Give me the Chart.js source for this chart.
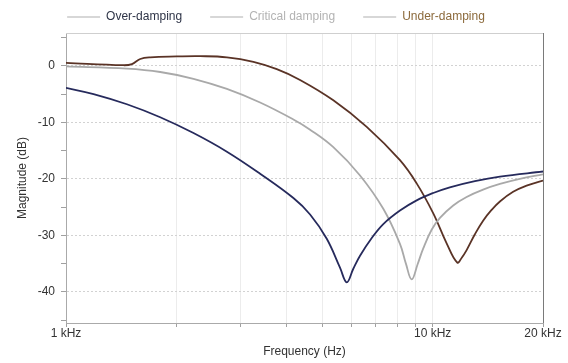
<!DOCTYPE html>
<html><head><meta charset="utf-8">
<script src="https://cdn.jsdelivr.net/npm/chart.js@4/dist/chart.umd.min.js"></script>
<style>html,body{margin:0;padding:0;background:#fff}</style>
</head><body>
<canvas id="c" width="568" height="363"></canvas>
<script>
// ---- data ----
const seriesNames = ['Over-damping', 'Critical damping', 'Under-damping'];

const overFreq = [1000, 1189, 1466, 1807, 2227, 2747, 3384, 4171, 4632, 5143, 5589, 5832, 6076, 6338, 6800, 7335, 8145, 9045, 10040, 11140, 13040, 15260, 20000];
const overDb   = [-3.9, -5.0, -6.8, -9.1, -11.9, -15.2, -19.1, -23.4, -26.3, -30.6, -35.7, -38.3, -35.9, -33.6, -30.6, -28.0, -25.6, -23.8, -22.5, -21.5, -20.4, -19.6, -18.7];

const critFreq = [1000, 1466, 1807, 2227, 2747, 3384, 4171, 4632, 5360, 6338, 7335, 8145, 8455, 8767, 9100, 9428, 9937, 10470, 11380, 12380, 13730, 15260, 17290, 20000];
const critDb   = [-0.1, -0.5, -1.1, -2.3, -4.1, -6.5, -9.5, -11.3, -14.4, -19.4, -25.3, -31.5, -35.0, -37.8, -35.1, -32.3, -29.0, -26.9, -24.7, -23.2, -21.9, -20.9, -20.0, -19.2];

const underFreq = [1000, 1435, 1513, 1594, 1697, 2006, 2323, 2747, 3245, 3758, 4349, 5360, 6610, 8145, 9045, 10040, 10920, 11670, 12020, 12380, 13040, 13730, 14480, 15260, 16580, 18040, 20000];
const underDb   = [0.5, 0.1, 0.3, 1.2, 1.5, 1.65, 1.7, 1.5, 0.7, -0.6, -2.5, -6.1, -10.8, -16.7, -20.8, -26.1, -31.4, -34.8, -33.9, -32.6, -29.8, -27.4, -25.5, -24.0, -22.3, -21.2, -20.3];

const xTickValues = [1000, 2000, 3000, 4000, 5000, 6000, 7000, 8000, 9000, 10000, 20000];
const xTickLabels = {1000: '1 kHz', 10000: '10 kHz', 20000: '20 kHz'};
const yTickValues = [5, 0, -5, -10, -15, -20, -25, -30, -35, -40, -45];
const yLabelStep = 10;

// ---- styling ----
const lineColors = ['#262a5c', '#a9a9a9', '#5a3326'];
const legendTextColors = ['#2e3447', '#b3b3b3', '#8c6a3c'];
const legendSampleColor = '#b0b0b0';
const FONT = 'Liberation Sans, Arial, Helvetica, sans-serif';

const toPts = (xs, ys) => xs.map((x, i) => ({x, y: ys[i]}));

const framePlugin = {
  id: 'frameTop',
  beforeDatasetsDraw(chart) {
    const {ctx, chartArea: a} = chart;
    ctx.save();
    ctx.strokeStyle = '#cfcfcf';
    ctx.lineWidth = 1;
    ctx.beginPath();
    ctx.moveTo(a.left, Math.round(a.top) + 0.5);
    ctx.lineTo(a.right, Math.round(a.top) + 0.5);
    ctx.stroke();
    ctx.restore();
  }
};

new Chart(document.getElementById('c'), {
  type: 'line',
  data: {
    datasets: [
      {label: seriesNames[0], data: toPts(overFreq, overDb), borderColor: lineColors[0]},
      {label: seriesNames[1], data: toPts(critFreq, critDb), borderColor: lineColors[1]},
      {label: seriesNames[2], data: toPts(underFreq, underDb), borderColor: lineColors[2]}
    ].map(d => Object.assign(d, {borderWidth: 1.8, pointRadius: 0, fill: false, tension: 0.4}))
  },
  options: {
    responsive: false,
    animation: false,
    devicePixelRatio: 1,
    layout: {padding: {top: -17, right: 25, left: 9, bottom: 0}},
    plugins: {
      tooltip: {enabled: false},
      legend: {
        position: 'top',
        labels: {
          boxWidth: 33, boxHeight: 1, padding: 28,
          font: {family: FONT, size: 12},
          generateLabels: chart => chart.data.datasets.map((ds, i) => ({
            text: ds.label, fillStyle: legendSampleColor, strokeStyle: legendSampleColor,
            lineWidth: 0, fontColor: legendTextColors[i], hidden: false, datasetIndex: i
          }))
        }
      }
    },
    scales: {
      x: {
        type: 'logarithmic', min: 1000, max: 20000,
        afterBuildTicks: s => { s.ticks = xTickValues.map(v => ({value: v})); },
        afterFit: s => { s.height = 40; },
        ticks: {
          autoSkip: false, maxRotation: 0, minRotation: 0, padding: -1,
          color: '#333', font: {family: FONT, size: 12},
          callback: v => xTickLabels[v] || ''
        },
        grid: {
          color: c => {
            const v = c.tick && c.tick.value;
            if (v === 20000) return '#7a7a7a';
            if (v === 1000) return 'rgba(0,0,0,0)';
            return '#ececec';
          },
          tickColor: '#a0a0a0', tickLength: 4
        },
        border: {color: '#aaaaaa'},
        title: {display: true, text: 'Frequency (Hz)', color: '#333', font: {family: FONT, size: 12}, padding: {top: 0, bottom: 4}}
      },
      y: {
        type: 'linear', min: -45.5, max: 5.8,
        afterBuildTicks: s => { s.ticks = yTickValues.map(v => ({value: v})); },
        afterFit: s => { s.width = 57; },
        ticks: {
          color: '#333', font: {family: FONT, size: 12}, padding: 6,
          callback: v => (v % yLabelStep === 0 ? String(v) : '')
        },
        grid: {
          color: c => (c.tick && c.tick.value % yLabelStep === 0 ? '#d2d2d2' : 'rgba(0,0,0,0)'),
          tickColor: '#a0a0a0', tickLength: 5
        },
        border: {color: '#aaaaaa', dash: [2, 2]},
        title: {display: true, text: 'Magnitude (dB)', color: '#333', font: {family: FONT, size: 12}, padding: {top: 6, bottom: 0}}
      }
    }
  },
  plugins: [framePlugin]
});
</script>
</body></html>
